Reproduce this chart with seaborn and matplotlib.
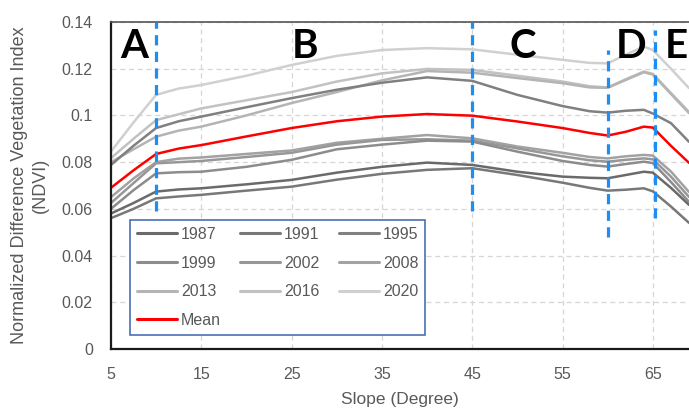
import matplotlib
matplotlib.use("Agg")
import matplotlib.pyplot as plt
import seaborn as sns
import pandas as pd
from matplotlib.lines import Line2D

slope = [5, 7.5, 10, 12.5, 15, 20, 25, 30, 35, 40, 45, 50, 55, 58, 60, 62, 64, 65, 67, 69]

ndvi_2020 = [0.0845, 0.097, 0.1088, 0.1115, 0.113, 0.117, 0.1216, 0.1255, 0.128, 0.1288, 0.1283, 0.126, 0.1238, 0.1225, 0.1223, 0.126, 0.1295, 0.128, 0.1200, 0.1117]
ndvi_2016 = [0.0817, 0.090, 0.098, 0.1005, 0.103, 0.1065, 0.1100, 0.1145, 0.118, 0.1199, 0.1195, 0.117, 0.1145, 0.1125, 0.112, 0.1155, 0.1188, 0.1178, 0.1096, 0.1015]
ndvi_1995 = [0.0788, 0.087, 0.0946, 0.0975, 0.0995, 0.1035, 0.1074, 0.111, 0.114, 0.1163, 0.1148, 0.1088, 0.104, 0.1018, 0.1012, 0.102, 0.1024, 0.1008, 0.0967, 0.0887]
ndvi_2013 = [0.0800, 0.0855, 0.0909, 0.0935, 0.0952, 0.100, 0.1053, 0.1100, 0.1150, 0.119, 0.1183, 0.116, 0.1138, 0.112, 0.1118, 0.1152, 0.1185, 0.1175, 0.1092, 0.101]
ndvi_2008 = [0.065, 0.073, 0.080, 0.0815, 0.082, 0.0835, 0.0850, 0.0883, 0.0900, 0.0916, 0.0902, 0.0867, 0.0840, 0.0822, 0.0816, 0.0825, 0.0831, 0.0828, 0.0760, 0.0672]
ndvi_2002 = [0.0625, 0.071, 0.0795, 0.080, 0.0805, 0.0822, 0.0840, 0.0875, 0.0895, 0.0898, 0.0892, 0.0859, 0.0825, 0.0808, 0.0802, 0.0810, 0.0816, 0.0812, 0.0738, 0.0651]
ndvi_1999 = [0.060, 0.068, 0.0752, 0.0757, 0.0759, 0.078, 0.0810, 0.0855, 0.0875, 0.0892, 0.0888, 0.0845, 0.0805, 0.0788, 0.0781, 0.0792, 0.0802, 0.0796, 0.0715, 0.0630]
ndvi_1987 = [0.058, 0.0625, 0.0674, 0.0683, 0.0688, 0.0705, 0.0724, 0.0755, 0.078, 0.0798, 0.0788, 0.0759, 0.0738, 0.0733, 0.0731, 0.0745, 0.0759, 0.0755, 0.0690, 0.0617]
ndvi_1991 = [0.056, 0.060, 0.0645, 0.0653, 0.066, 0.0678, 0.0695, 0.0725, 0.075, 0.0767, 0.0774, 0.0745, 0.0712, 0.069, 0.0678, 0.0682, 0.0688, 0.0675, 0.0610, 0.0540]
ndvi_mean = [0.069, 0.0765, 0.0835, 0.0858, 0.0873, 0.091, 0.0946, 0.0975, 0.0995, 0.1006, 0.0999, 0.0974, 0.0946, 0.0925, 0.0914, 0.093, 0.0952, 0.0948, 0.087, 0.0797]

years = ["1987", "1991", "1995", "1999", "2002", "2008", "2013", "2016", "2020", "Mean"]
series = [ndvi_1987, ndvi_1991, ndvi_1995, ndvi_1999, ndvi_2002, ndvi_2008,
          ndvi_2013, ndvi_2016, ndvi_2020, ndvi_mean]

zone_bounds = [10, 45, 60, 65.2]
zone_letters = ["A", "B", "C", "D", "E"]
zone_letter_x = [7.6, 26.5, 50.6, 62.6, 67.6]

x_ticks = [5, 15, 25, 35, 45, 55, 65]
y_ticks = [0, 0.02, 0.04, 0.06, 0.08, 0.1, 0.12, 0.14]
y_tick_labels = ["0", "0.02", "0.04", "0.06", "0.08", "0.1", "0.12", "0.14"]

palette = {
    "1987": "#6a6a6a", "1991": "#787878", "1995": "#808080",
    "1999": "#8c8c8c", "2002": "#979797", "2008": "#a2a2a2",
    "2013": "#b4b4b4", "2016": "#c2c2c2", "2020": "#d0d0d0",
    "Mean": "#ff0000",
}

rows = []
for yr, vals in zip(years, series):
    for s, v in zip(slope, vals):
        rows.append({"Slope": s, "NDVI": v, "Year": yr})
df = pd.DataFrame(rows)

sns.set_style("white")
plt.rcParams["font.family"] = ["Liberation Sans", "DejaVu Sans"]

fig = plt.figure(figsize=(6.89, 4.09), dpi=100)
ax = fig.add_axes([0.161, 0.1467, 0.839, 0.7995])

draw_order = ["2020", "2016", "2013", "1995", "2008", "2002", "1999", "1987", "1991", "Mean"]
sns.lineplot(data=df, x="Slope", y="NDVI", hue="Year", hue_order=draw_order,
             palette=palette, estimator=None, linewidth=1.8, ax=ax, legend=False)

ax.set_xlim(5, 69)
ax.set_ylim(0, 0.14)
ax.set_xticks(x_ticks)
ax.set_yticks(y_ticks)
ax.set_yticklabels(y_tick_labels)
ax.grid(True, color="#d6d6d6", linestyle=(0, (4, 3)), linewidth=0.9)
ax.set_axisbelow(True)
ax.tick_params(axis="both", length=0, labelsize=11.5, labelcolor="#595959")
ax.tick_params(axis="y", pad=13)
ax.tick_params(axis="x", pad=13)

for side in ["left", "bottom"]:
    ax.spines[side].set_color("#1a1a1a")
    ax.spines[side].set_linewidth(1.6)
ax.spines["top"].set_color("#555555")
ax.spines["top"].set_linewidth(1.2)
ax.spines["right"].set_visible(False)

ax.set_xlabel("Slope (Degree)", fontsize=12.5, color="#595959", labelpad=7)
ax.set_ylabel("Normalized Difference Vegetation Index\n(NDVI)", fontsize=13,
              color="#595959", labelpad=9, linespacing=1.3)

# zone boundaries
blue = "#1f8ef1"
zone_ymin = [0.059, 0.059, 0.048, 0.056]
zone_ymax = [0.140, 0.140, 0.128, 0.1366]
for xb, y0, y1 in zip(zone_bounds, zone_ymin, zone_ymax):
    ax.vlines(xb, y0, y1, colors=blue, linewidth=2.3, linestyles=(0, (3.2, 2.0)), zorder=5)

for lt, lx in zip(zone_letters, zone_letter_x):
    ax.text(lx, 0.1295, lt, fontsize=29, fontweight="bold", family=["Lato", "DejaVu Sans"],
            color="black", ha="center", va="center", zorder=6, clip_on=False)

# legend, row-wise like the reference
leg_order = ["1987", "1999", "2013", "Mean", "1991", "2002", "2016", "1995", "2008", "2020"]
handles = [Line2D([0], [0], color=palette[y], linewidth=2.2) for y in leg_order]
leg = ax.legend(handles, leg_order, ncol=3, loc="lower left",
                bbox_to_anchor=(0.033, 0.043), borderaxespad=0, frameon=True,
                fancybox=False, fontsize=11.5, handlelength=2.5, handletextpad=0.25,
                columnspacing=1.2, labelspacing=0.85, borderpad=0.45)
leg.get_frame().set_edgecolor("#4a6fb5")
leg.get_frame().set_linewidth(1.2)
leg.get_frame().set_alpha(1)
leg.set_zorder(10)
for t in leg.get_texts():
    t.set_color("#595959")

fig.savefig("out.png", dpi=100)
